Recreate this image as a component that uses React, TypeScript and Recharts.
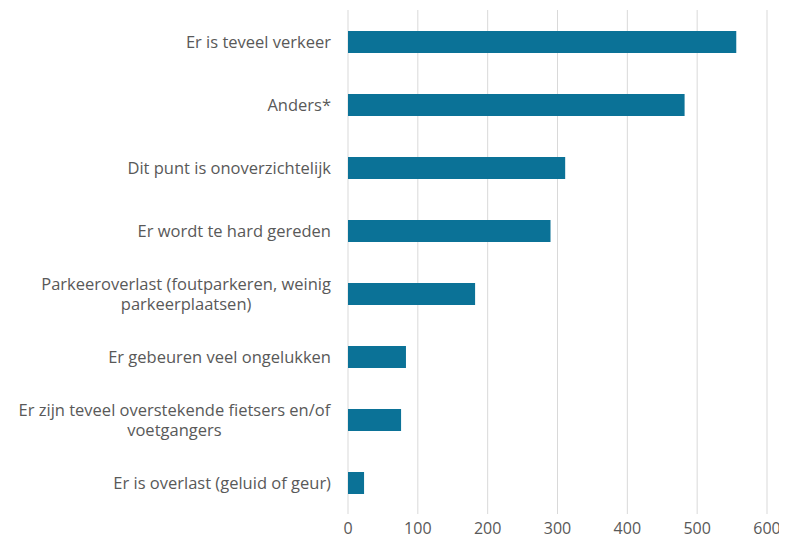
import { useLayoutEffect, useRef, useState } from "react";
import { BarChart, Bar, XAxis, YAxis, CartesianGrid } from "recharts";

const categories = [
  "Er is teveel verkeer",
  "Anders*",
  "Dit punt is onoverzichtelijk",
  "Er wordt te hard gereden",
  "Parkeeroverlast (foutparkeren, weinig\nparkeerplaatsen)",
  "Er gebeuren veel ongelukken",
  "Er zijn teveel overstekende fietsers en/of\nvoetgangers",
  "Er is overlast (geluid of geur)",
];

const counts = [556, 482, 311, 290, 182, 83, 76, 23];

const xTicks = [0, 100, 200, 300, 400, 500, 600];

const data = categories.map((name, i) => ({ name, value: counts[i] }));

const FONT = "'Open Sans', sans-serif";

// multi-line labels are centred as a block, block right edge on the tick x
const CategoryTick = (props: any) => {
  const { x, y, payload } = props;
  const lines: string[] = String(payload.value).split("\n");
  const ref = useRef<SVGTextElement>(null);
  const [w, setW] = useState(0);
  useLayoutEffect(() => {
    if (ref.current) setW(ref.current.getBBox().width);
  }, [payload.value]);
  const lh = 20;
  const start = -((lines.length - 1) * lh) / 2;
  const single = lines.length === 1;
  const cx = single ? x : x - w / 2;
  return (
    <text
      ref={ref}
      x={cx}
      y={y}
      textAnchor={single ? "end" : "middle"}
      fill="#595959"
      fontSize={16.5}
      fontFamily={FONT}
    >
      {lines.map((l, i) => (
        <tspan key={i} x={cx} dy={i === 0 ? start + 6 : lh}>
          {l}
        </tspan>
      ))}
    </text>
  );
};

const App = () => {
  return (
    <BarChart
      width={779}
      height={539}
      data={data}
      layout="vertical"
      margin={{ top: 2, right: 20, bottom: 0, left: 0 }}
      barSize={22}
    >
      <CartesianGrid horizontal={false} stroke="#d9d9d9" />
      <XAxis
        type="number"
        domain={[0, 600]}
        ticks={xTicks}
        axisLine={false}
        tickLine={false}
        height={33}
        tickMargin={3}
        tick={{ fill: "#595959", fontSize: 16, fontFamily: FONT }}
        interval={0}
      />
      <YAxis
        type="category"
        dataKey="name"
        width={340}
        axisLine={false}
        tickLine={false}
        tickMargin={11}
        tick={<CategoryTick />}
        interval={0}
      />
      <Bar dataKey="value" fill="#0b7297" isAnimationActive={false} />
    </BarChart>
  );
};

export default App;
